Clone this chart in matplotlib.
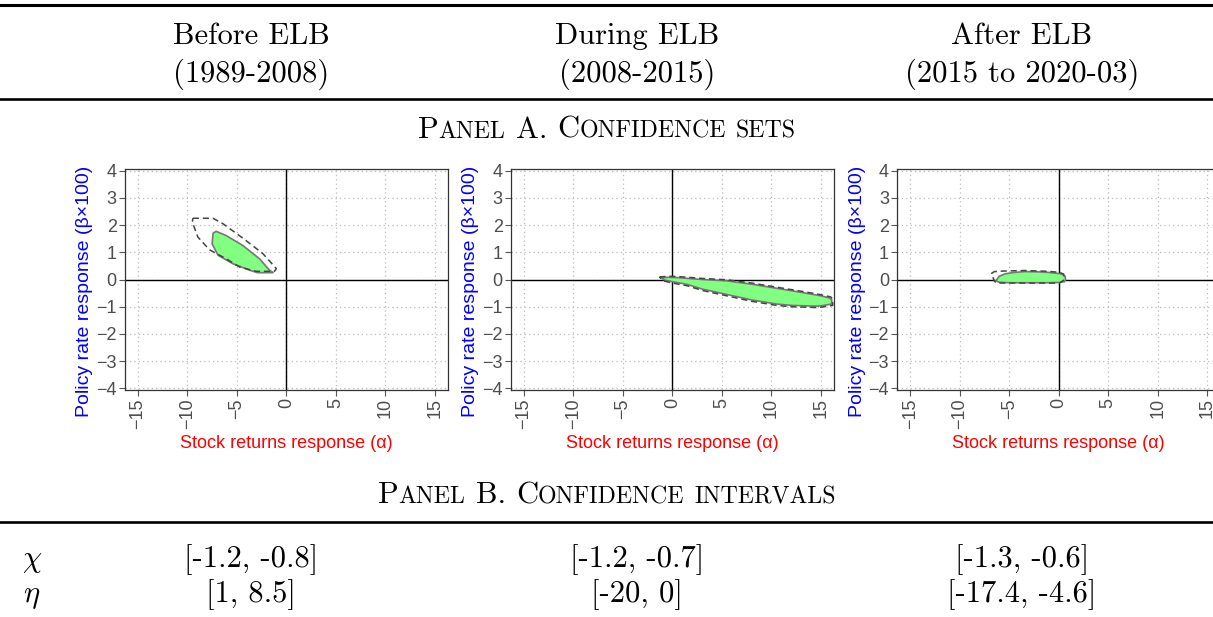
import matplotlib
matplotlib.use("Agg")
import matplotlib.pyplot as plt
from matplotlib.lines import Line2D
import numpy as np

plt.rcParams['mathtext.fontset'] = 'cm'
plt.rcParams['axes.unicode_minus'] = True

# ---------------- data ----------------
headers_top = ["Before ELB", "During ELB", "After ELB"]
headers_bottom = ["(1989-2008)", "(2008-2015)", "(2015 to 2020-03)"]
row_labels = [r"$\chi$", r"$\eta$"]
chi_intervals = ["[-1.2, -0.8]", "[-1.2, -0.7]", "[-1.3, -0.6]"]
eta_intervals = ["[1, 8.5]", "[-20, 0]", "[-17.4, -4.6]"]

x_ticks = [-15, -10, -5, 0, 5, 10, 15]
y_ticks = [-4, -3, -2, -1, 0, 1, 2, 3, 4]

# Panel 1 (before ELB): inner (filled) and outer (dashed) confidence sets
p1_inner_x = [-7.1, -6.1, -4.4, -2.7, -1.7, -1.3, -2.9, -3.7, -5.4, -6.9, -7.5, -7.4, -7.1]
p1_inner_y = [1.77, 1.62, 1.25, 0.76, 0.34, 0.25, 0.25, 0.34, 0.58, 0.89, 1.31, 1.70, 1.77]
p1_outer_x = [-9.44, -7.42, -6.41, -4.39, -2.37, -1.01, -1.2, -3.03, -4.72, -6.07, -7.76, -8.94, -9.5, -9.44]
p1_outer_y = [2.25, 2.25, 2.05, 1.52, 0.95, 0.40, 0.30, 0.30, 0.46, 0.76, 1.09, 1.56, 2.11, 2.25]

# Panel 2 (during ELB)
p2_inner_x = [-1.1, -0.5, 0.5, 3, 5.5, 8, 10.5, 13, 15, 15.9, 16.1, 16.1, 15, 14.5, 12, 10.5, 8, 5.5, 3, 1.5, 0, -0.8, -1.1]
p2_inner_y = [0.06, 0.08, 0.07, 0.0, -0.05, -0.17, -0.32, -0.47, -0.60, -0.68, -0.75, -0.90, -0.97, -0.98, -0.95, -0.90, -0.75, -0.55, -0.35, -0.18, -0.08, -0.02, 0.06]
p2_outer_x = [-1.3, -0.5, 0.5, 3, 5.5, 8, 10.5, 13, 15, 16.0, 16.2, 16.2, 15, 14.5, 12, 10.5, 8, 5.5, 3, 1.5, 0, -0.9, -1.3]
p2_outer_y = [0.09, 0.12, 0.11, 0.04, -0.01, -0.13, -0.28, -0.43, -0.56, -0.64, -0.72, -0.95, -1.02, -1.03, -1.00, -0.95, -0.80, -0.60, -0.40, -0.23, -0.13, -0.05, 0.09]

# Panel 3 (after ELB)
p3_inner_x = [-6.35, -6.0, -5.4, -4.5, -3.4, -2.0, -1.0, 0.0, 0.4, 0.65, 0.7, 0.6, 0.0, -1.0, -3.0, -5.0, -6.0, -6.35]
p3_inner_y = [-0.05, 0.12, 0.21, 0.26, 0.29, 0.28, 0.26, 0.22, 0.19, 0.12, 0.0, -0.08, -0.11, -0.12, -0.12, -0.12, -0.10, -0.05]
p3_outer_x = [-6.8, -6.5, -5.6, -3.4, -1.0, 0.1, 0.5, 0.6, 0.1, -2.0, -5.0, -6.3, -6.5, -6.8]
p3_outer_y = [0.22, 0.29, 0.31, 0.33, 0.30, 0.26, 0.20, 0.0, -0.13, -0.13, -0.13, -0.13, -0.05, 0.22]

panels = [
    (p1_inner_x, p1_inner_y, p1_outer_x, p1_outer_y),
    (p2_inner_x, p2_inner_y, p2_outer_x, p2_outer_y),
    (p3_inner_x, p3_inner_y, p3_outer_x, p3_outer_y),
]

# ---------------- figure ----------------
W, H = 1213, 617
fig = plt.figure(figsize=(W / 100, H / 100), dpi=100)

def fx(px):
    return px / W

def fy(py):
    return 1 - py / H

SERIF = 'cmr10'
FS = 22

# rules
for y, lw in [(4.5, 2.2), (98.5, 1.9), (521.5, 1.9)]:
    fig.add_artist(Line2D([0, 1], [fy(y), fy(y)], transform=fig.transFigure,
                          color='black', lw=lw))

col_centers = [251, 637, 1022]
for cx, t1, t2 in zip(col_centers, headers_top, headers_bottom):
    fig.text(fx(cx), fy(44), t1, ha='center', va='baseline', fontsize=FS, family=SERIF)
    fig.text(fx(cx), fy(82), t2, ha='center', va='baseline', fontsize=FS, family=SERIF)

# small caps helper
renderer = fig.canvas.get_renderer()

def small_caps(cx, baseline_px, parts, size, sc=0.78):
    items = []
    total = 0.0
    space_w = 0.333 * size * 100 / 72
    for p in parts:
        if p is None:
            items.append((None, space_w, None))
            total += space_w
            continue
        txt, big = p
        fs = size if big else size * sc
        t = fig.text(0, 0, txt, fontsize=fs, family=SERIF)
        w = t.get_window_extent(renderer).width
        t.remove()
        items.append((txt, w, fs))
        total += w
    x = cx - total / 2
    for txt, w, fs in items:
        if txt is not None:
            fig.text(fx(x), fy(baseline_px), txt, fontsize=fs, family=SERIF,
                     ha='left', va='baseline')
        x += w

small_caps(607, 137.5, [("P", True), ("ANEL", False), None, ("A.", True), None,
                        ("C", True), ("ONFIDENCE", False), None, ("SETS", False)], FS)
small_caps(607, 503, [("P", True), ("ANEL", False), None, ("B.", True), None,
                      ("C", True), ("ONFIDENCE", False), None, ("INTERVALS", False)], FS)

# Panel B rows
fig.text(fx(32), fy(567), row_labels[0], ha='center', va='baseline', fontsize=FS)
fig.text(fx(32), fy(602), row_labels[1], ha='center', va='baseline', fontsize=FS)
for cx, c, e in zip(col_centers, chi_intervals, eta_intervals):
    fig.text(fx(cx), fy(567), c, ha='center', va='baseline', fontsize=FS, family=SERIF)
    fig.text(fx(cx), fy(602), e, ha='center', va='baseline', fontsize=FS, family=SERIF)

# ---------------- plots ----------------
ax_lefts = [125, 511, 897.3]
ax_w = 322.7
ax_top, ax_bot = 169, 390
SANS = 'Liberation Sans'
tick_col = '#4D4D4D'

for left, (ix, iy, ox, oy) in zip(ax_lefts, panels):
    ax = fig.add_axes([fx(left), fy(ax_bot), ax_w / W, (ax_bot - ax_top) / H])
    ax.set_xlim(-16.3, 16.3)
    ax.set_ylim(-4.06, 4.06)
    ax.set_xticks(x_ticks)
    ax.set_yticks(y_ticks)
    ax.set_xticklabels([f"{v}".replace('-', '\u2212') for v in x_ticks],
                       rotation=90, fontsize=13, family=SANS, color=tick_col)
    ax.set_yticklabels([f"{v}".replace('-', '\u2212') for v in y_ticks],
                       fontsize=13, family=SANS, color=tick_col)
    ax.tick_params(axis='both', length=4, width=0.8, color='#555555', pad=2)
    ax.grid(True, color='#BBBBBB', linestyle=(0, (1, 2.5)), linewidth=0.9)
    ax.set_axisbelow(True)
    for sp in ax.spines.values():
        sp.set_color('#333333')
        sp.set_linewidth(0.9)
    ax.axhline(0, color='black', lw=1.0, zorder=1.5)
    ax.axvline(0, color='black', lw=1.0, zorder=1.5)
    ax.fill(ix, iy, facecolor='#80FF80', edgecolor='#777777', lw=1.2, zorder=3)
    ax.plot(ox, oy, color='#444444', lw=1.1, linestyle=(0, (4, 2.5)), zorder=4)
    ax.text(0.5, -0.24, "Stock returns response (\u03b1)", transform=ax.transAxes,
            ha='center', va='center', color='#FF0000', fontsize=13, family=SANS)
    ax.text(-0.124, 0.448, "Policy rate response (\u03b2\u00d7100)", transform=ax.transAxes,
            ha='center', va='center', rotation=90, color='#0000FF', fontsize=14, family=SANS)

fig.savefig("out.png", dpi=100)
